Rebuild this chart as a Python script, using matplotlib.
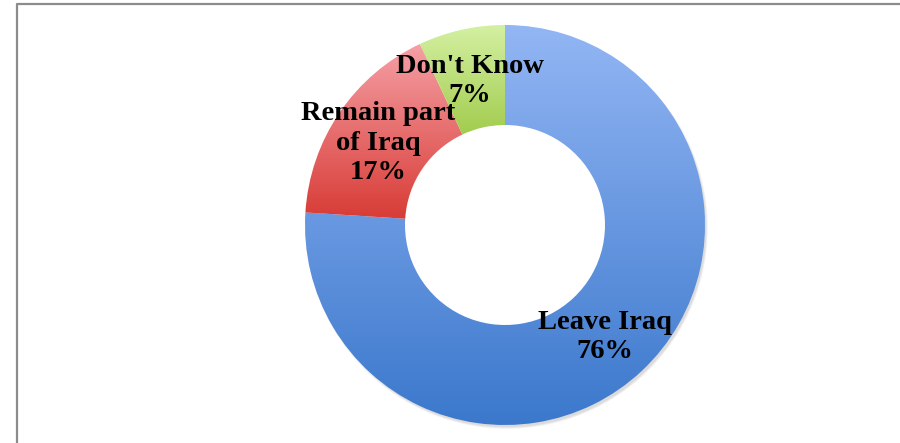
import numpy as np
import matplotlib.pyplot as plt
from matplotlib.colors import LinearSegmentedColormap
from matplotlib.patches import Wedge

labels = ['Leave Iraq', 'Remain part\nof Iraq', "Don't Know"]
values = [76, 17, 7]
# top / bottom colours of each slice's gradient
grad_top = ['#93b6f4', '#f5a0a6', '#d4f0a2']
grad_bottom = ['#3b78cc', '#d83c36', '#a2cc4e']

W, H = 900, 443
cx, cy, R = 505, H - 225, 200

fig = plt.figure(figsize=(9, 4.43), dpi=100)
ax = fig.add_axes([0, 0, 1, 1])

wedges, _ = ax.pie(values, center=(cx, cy), radius=R, startangle=90,
                   counterclock=False, wedgeprops=dict(width=R * 0.5, linewidth=0))

for w, ct, cb in zip(wedges, grad_top, grad_bottom):
    w.set_facecolor('none')
    ext = w.get_path().get_extents()
    cmap = LinearSegmentedColormap.from_list('g', [cb, ct])
    grad = np.linspace(0, 1, 256).reshape(-1, 1)
    im = ax.imshow(grad, cmap=cmap, origin='lower', aspect='auto',
                   extent=[ext.x0, ext.x1, ext.y0, ext.y1], zorder=2)
    im.set_clip_path(w)

# soft shadow on the outer edge
for k in range(6):
    sh = Wedge((cx + 2, cy - 3), R + 1 - k * 0.4, 0, 360, width=15,
               color='#000000', alpha=0.025, zorder=1, lw=0)
    ax.add_patch(sh)

# labels
font = dict(family='Liberation Serif', fontweight='bold', fontsize=20.5,
            ha='center', va='center', color='#000000', zorder=5, linespacing=1.25)
ax.text(605, H - 337, 'Leave Iraq\n76%', **font)
ax.text(378, H - 143, 'Remain part\nof Iraq\n17%', **font)
ax.text(470, H - 81, "Don't Know\n7%", **font)

# chart frame
ax.plot([16.5, 16.5, 910], [-10, H - 3.5, H - 3.5], color='#8c8c8c', lw=1.6,
        solid_capstyle='projecting', zorder=6)

ax.set_xlim(0, W)
ax.set_ylim(0, H)
ax.set_aspect('equal')
ax.axis('off')

fig.savefig('out.png', dpi=100)
